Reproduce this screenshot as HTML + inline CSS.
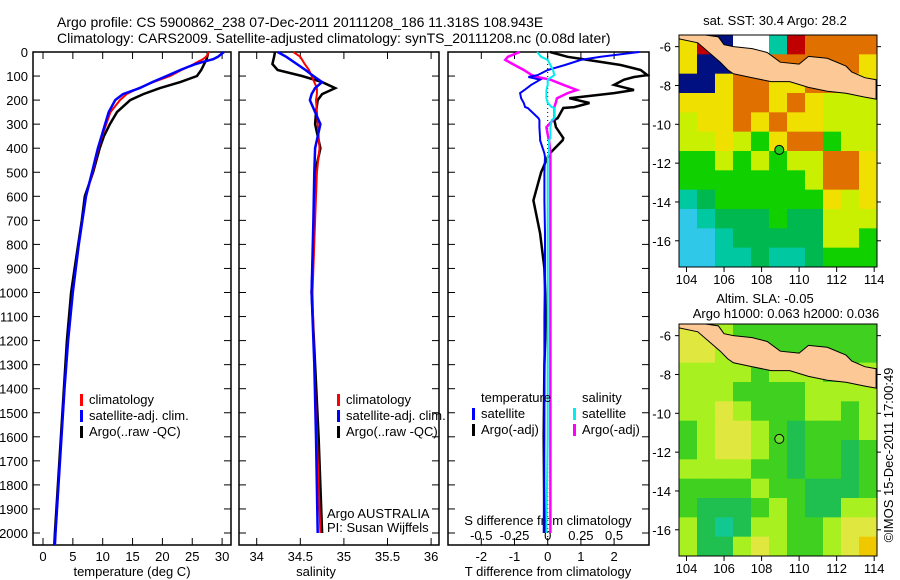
<!DOCTYPE html>
<html><head><meta charset="utf-8"><style>
html,body{margin:0;padding:0;background:#fff;}
svg{display:block;font-family:"Liberation Sans",sans-serif;}
text{font-size:13px;fill:#000;}
</style></head><body>
<svg id="fig" width="900" height="580" viewBox="0 0 900 580" xmlns="http://www.w3.org/2000/svg">
<text x="57" y="27" style="font-size:14px">Argo profile: CS 5900862_238 07-Dec-2011 20111208_186 11.318S 108.943E</text>
<text x="57" y="43" style="font-size:14px">Climatology: CARS2009. Satellite-adjusted climatology: synTS_20111208.nc (0.08d later)</text>
</svg>
<script>
// ---------- data ----------
const depthT = [0,10,20,30,40,50,60,75,100,125,150,175,200,250,300,350,400,500,600,700,800,900,1000,1200,1400,1600,1800,2000,2050];
const tempClim = [27.7,27.6,27.3,26.8,26,25.3,24.5,23.2,21.3,18.5,16,14,12.9,11.3,10.6,9.9,9.3,8.3,7.2,6.6,6,5.5,5,4.2,3.6,3.1,2.6,2.1,2.0];
const tempSat = [30.3,29.8,29.3,28.5,27,25.6,24.5,23,20.7,18.3,16.2,13.4,12.1,11,10.4,9.8,9.2,8.2,7.2,6.6,6,5.5,5,4.2,3.6,3.1,2.6,2.1,2.0];
const tempArgo = [27.6,27.6,27.5,27.4,27.2,27.0,26.8,26.5,25.8,23,19.6,16.8,14.6,12.4,11.2,10.2,9.5,8.4,7,6.5,5.9,5.3,4.7,4.0,3.5,3.0,2.5,2.0,1.9];
const depthS = [0,20,50,75,100,125,150,175,200,250,300,400,500,700,1000,1300,1600,2000];
const salClim = [34.42,34.5,34.55,34.6,34.63,34.66,34.69,34.69,34.68,34.69,34.70,34.72,34.69,34.67,34.64,34.66,34.69,34.73];
const salSat = [34.24,34.34,34.46,34.56,34.65,34.75,34.67,34.63,34.61,34.67,34.73,34.67,34.66,34.65,34.63,34.66,34.68,34.70];
const salArgo = [34.21,34.2,34.18,34.24,34.52,34.75,34.90,34.75,34.70,34.68,34.67,34.73,34.67,34.66,34.63,34.67,34.71,34.75];
const depthD = [0,20,33,54,75,96,104,115,137,158,171,192,212,229,233,275,283,313,358,367,421,437,500,617,754,900,1100,1300,1600,2000];
const dTsat = [2.76,1.6,1.0,0.52,0,-0.3,-0.58,-0.23,-0.5,-0.7,-0.83,-0.8,-0.72,-0.68,-0.6,-0.28,-0.25,-0.25,-0.23,-0.23,-0.1,-0.08,-0.1,-0.1,-0.08,-0.08,-0.1,-0.1,-0.1,-0.12];
const dTargo = [0.07,0.6,1.2,2.2,2.8,3.0,2.6,2.3,2.0,2.6,2.0,0.65,1.26,0.8,0.47,0.3,0.2,0.25,0.47,0.45,0.07,0.0,-0.2,-0.43,-0.23,-0.1,-0.05,-0.1,-0.12,-0.1];
const dSsat = [-0.08,-0.05,0.0,0.02,0.04,0.05,0.03,0.0,0.0,-0.01,-0.01,-0.01,0.0,0.03,0.05,0.05,0.03,0.02,0.02,0.01,0.01,0.0,0.0,0.0,0.0,0.0,0.0,0.0,0.0,-0.01];
const dSargo = [-0.21,-0.3,-0.32,-0.25,-0.18,-0.12,-0.08,0.02,0.12,0.22,0.15,0.07,0.06,0.05,0.05,0.05,0.04,-0.01,0.005,0.01,0.02,0.02,0.02,0.02,0.02,0.02,0.02,0.02,0.02,0.02];
const depthTicks = [0,100,200,300,400,500,600,700,800,900,1000,1100,1200,1300,1400,1500,1600,1700,1800,1900,2000];
const tempTicks = [0,5,10,15,20,25,30];
const salTicks = [34,34.5,35,35.5,36];
const tdTicks = [-2,-1,0,1,2];
const sdTicks = [-0.5,-0.25,0,0.25,0.5];
const sdTickLabels = ["-0.5","-0.25","0","0.25","0.5"];
const lonTicks = [104,106,108,110,112,114];
const latTicks = [-6,-8,-10,-12,-14,-16];
const sstGrid = ["YRNWWTROOOO","YNNYYOOOOOY","NNYOOYYOOYY","YYYOOYOYLLL","LYYOYOYYLLL","LLYLGYOOGLL","GGLGLGLLOOY","GGGGGGGLOOY","TDGGGGGGYLY","CTDDDGDDLLL","CCTDDDDDLLG","CCTTDTTDGGG"];
const slaGrid = ["YYLGGGGGGGG","YYLGGGGGGGG","LLLLGLLLGGL","LLLGGGGLLLL","LLYLGGGLLGL","GLYYLGDGGGL","GLYYLGDGGDG","LLLLGGDGGDG","GGGGLGGDDDG","GDDDGLGDDLL","LDTDLLGGLYY","LDDLYLGGLYO"];
const coastLon = [103.6,105.0,105.7,106.0,106.5,107.5,108.3,109.0,110.0,110.5,111.5,112.5,112.8,113.5,114.1,114.1,113.5,112.5,111.5,110.5,109.5,108.5,107.5,106.5,106.2,105.8,105.2,104.6,103.6];
const coastLat = [-5.4,-5.4,-5.5,-5.9,-6.0,-6.1,-6.3,-6.8,-6.9,-6.5,-6.6,-7.0,-7.3,-7.6,-7.7,-8.7,-8.6,-8.4,-8.3,-8.1,-7.8,-7.8,-7.6,-7.4,-7.2,-6.8,-6.3,-5.8,-5.6];
const argoLon = 108.943, argoLat = -11.318;

// ---------- helpers ----------
const NS = "http://www.w3.org/2000/svg";
const svg = document.getElementById('fig');
function mk(tag, attrs, parent){const e=document.createElementNS(NS,tag);for(const k in attrs)e.setAttribute(k,attrs[k]);(parent||svg).appendChild(e);return e;}
function txt(x,y,s,anchor,parent){const t=mk('text',{x:x,y:y,'text-anchor':anchor||'start'},parent);t.textContent=s;return t;}

const TOP=52, BOT=545, DSC=0.2405;
const yD = d => TOP + d*DSC;

function panel(name,x0,x1){
  const g=mk('g',{});
  
  
  const r=mk('rect',{x:x0,y:TOP,width:x1-x0,height:BOT-TOP,fill:'none',stroke:'#000','stroke-width':1.5},g);
  
  
  depthTicks.forEach(d=>{mk('line',{x1:x0,x2:x0+7,y1:yD(d),y2:yD(d),stroke:'#000'},g);mk('line',{x1:x1,x2:x1-7,y1:yD(d),y2:yD(d),stroke:'#000'},g);});
  return g;
}
function xticks(g,ticks,labels,fx,ly){
  ticks.forEach((v,i)=>{const x=fx(v);mk('line',{x1:x,x2:x,y1:TOP,y2:TOP+7,stroke:'#000'},g);mk('line',{x1:x,x2:x,y1:BOT,y2:BOT-7,stroke:'#000'},g);
    const t=txt(x,ly,labels[i],'middle',g);
    
    });
}
function line(g,xs,ds,fx,color,w,name,dash){
  const pts=xs.map((v,i)=>fx(v).toFixed(1)+','+yD(ds[i]).toFixed(1)).join(' ');
  const p=mk('polyline',{points:pts,fill:'none',stroke:color,'stroke-width':w},g);
  if(dash) p.setAttribute('stroke-dasharray',dash);
  
  
}
function legend(g,x,y,color,label){
  mk('rect',{x:x,y:y-10,width:3,height:12,fill:color},g);
  const t=txt(x+9,y,label,'start',g);
  
  
}

depthTicks.forEach(d=>{const t=txt(28,yD(d)+5,String(d),'end');
  
  });

// ---------- panel 1: temperature ----------
const xT = v => 43 + v*5.97;
const g1=panel('temperature-panel',33,231);
xticks(g1,tempTicks,tempTicks.map(String),xT,561);
line(g1,tempArgo,depthT,xT,'#000',2.5,'temp-argo-line');
line(g1,tempClim,depthT,xT,'#f00',2,'temp-climatology-line');
line(g1,tempSat,depthT,xT,'#00f',2.5,'temp-satellite-line');
legend(g1,80,404,'#f00','climatology');
legend(g1,80,420,'#00f','satellite-adj. clim.');
legend(g1,80,436,'#000','Argo(..raw -QC)');
let t1=txt(132,576,'temperature (deg C)','middle');



// ---------- panel 2: salinity ----------
const xS = v => 256.7 + (v-34)*87.2;
const g2=panel('salinity-panel',239,439);
xticks(g2,salTicks,salTicks.map(String),xS,561);
line(g2,salArgo,depthS,xS,'#000',2.5,'sal-argo-line');
line(g2,salClim,depthS,xS,'#f00',2,'sal-climatology-line');
line(g2,salSat,depthS,xS,'#00f',2.5,'sal-satellite-line');
legend(g2,337,404,'#f00','climatology');
legend(g2,337,420,'#00f','satellite-adj. clim.');
legend(g2,337,436,'#000','Argo(..raw -QC)');
txt(327,518,'Argo AUSTRALIA','start',g2);
txt(327,532,'PI: Susan Wijffels','start',g2);
let t2=txt(316,576,'salinity','middle');



// ---------- panel 3: differences ----------
const xTd = v => 547.7 + v*33.2;
const xSd = v => 547.7 + v*132.8;
const g3=panel('difference-panel',448,649);
xticks(g3,tdTicks,tdTicks.map(String),xTd,561);
sdTicks.forEach((v,i)=>{const t=txt(xSd(v),540,sdTickLabels[i],'middle',g3);
  
  });
txt(548,525,'S difference from climatology','middle',g3);
mk('line',{x1:xTd(0),x2:xTd(0),y1:TOP,y2:BOT,stroke:'#000','stroke-dasharray':'1,3'},g3);
line(g3,dTargo,depthD,xTd,'#000',2.5,'tdiff-argo-line');
line(g3,dSargo,depthD,xSd,'#f0f',2.5,'sdiff-argo-line');
line(g3,dTsat,depthD,xTd,'#00f',2,'tdiff-satellite-line');
line(g3,dSsat,depthD,xSd,'#0ee',2,'sdiff-satellite-line');
txt(481,402,'temperature','start',g3);
legend(g3,472,418,'#00f','satellite');
legend(g3,472,434,'#000','Argo(-adj)');
txt(582,402,'salinity','start',g3);
legend(g3,573,418,'#0ee','satellite');
legend(g3,573,434,'#f0f','Argo(-adj)');
let t3=txt(548,576,'T difference from climatology','middle');



// ---------- maps ----------
const sstColors={O:'#e07000',Y:'#f0e000',L:'#c8f000',G:'#10d000',D:'#00b850',T:'#00c8a0',C:'#30c8e8',N:'#001080',W:'#ffffff',R:'#c00000'};
const slaColors={Y:'#e0e840',L:'#a8f020',G:'#40d020',D:'#20c050',T:'#10c890',O:'#f0c800'};
const LON0=103.6,LON1=114.15,LAT0=-5.4,LAT1=-17.35;
function map(name,top,grid,colors,markFill){
  const L=679,R=877,B=top+232;
  const fx=lon=>L+(lon-LON0)/(LON1-LON0)*(R-L);
  const fy=lat=>top+(lat-LAT0)/(LAT1-LAT0)*(B-top);
  const g=mk('g',{});
  
  
  const nr=grid.length,nc=grid[0].length,cw=(R-L)/nc,ch=(B-top)/nr;
  grid.forEach((row,r)=>{[...row].forEach((c,k)=>{
    const cell=mk('rect',{x:L+k*cw,y:top+r*ch,width:cw+0.5,height:ch+0.5,fill:colors[c]},g);
    
    
  });});
  const land=mk('polygon',{points:coastLon.map((v,i)=>fx(v).toFixed(1)+','+fy(coastLat[i]).toFixed(1)).join(' '),fill:'#fcc896',stroke:'#000','stroke-width':1},g);
  
  
  const m=mk('circle',{cx:fx(argoLon),cy:fy(argoLat),r:4.5,fill:markFill,stroke:'#000','stroke-width':1},g);
  
  
  mk('rect',{x:L,y:top,width:R-L,height:B-top,fill:'none',stroke:'#000','stroke-width':1},g);
  lonTicks.forEach(v=>{const x=fx(v);mk('line',{x1:x,x2:x,y1:B,y2:B+5,stroke:'#000'},g);
    const t=txt(x,B+17,String(v),'middle',g);});
  latTicks.forEach(v=>{const y=fy(v);mk('line',{x1:L,x2:L-4,y1:y,y2:y,stroke:'#000'},g);mk('line',{x1:R,x2:R+4,y1:y,y2:y,stroke:'#000'},g);
    const t=txt(L-8,y+5,String(v),'end',g);});
}
map('sst-map',35,sstGrid,sstColors,'#20d020');
map('sla-map',324,slaGrid,slaColors,'#70e030');
txt(775,25,'sat. SST: 30.4 Argo: 28.2','middle');
txt(765,303,'Altim. SLA: -0.05','middle');
txt(786,318,'Argo h1000: 0.063 h2000: 0.036','middle');
const cr=txt(0,0,'©IMOS 15-Dec-2011 17:00:49','middle');
cr.setAttribute('transform','translate(893,455) rotate(-90)');


</script>
</body></html>
